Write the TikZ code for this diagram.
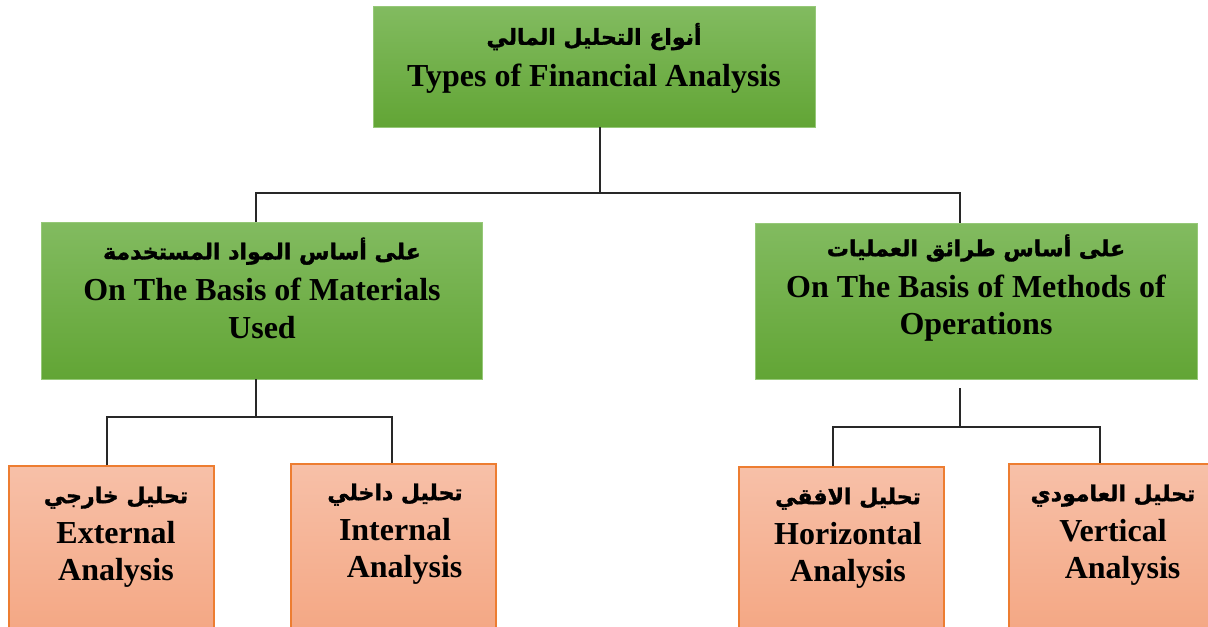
\documentclass[tikz,border=0pt]{standalone}
\usepackage{fontspec}
\setmainfont{Liberation Serif}
\newfontfamily\ar[Script=Arabic,FakeBold=1.5]{DejaVu Sans}
\TeXXeTstate=1
\usetikzlibrary{calc}
\definecolor{gtop}{RGB}{130,187,96}
\definecolor{gbot}{RGB}{98,165,53}
\definecolor{gline}{RGB}{150,200,120}
\definecolor{otop}{RGB}{247,192,168}
\definecolor{obot}{RGB}{244,166,130}
\definecolor{oline}{RGB}{237,125,49}
\definecolor{lne}{RGB}{40,40,40}
\newcommand{\arl}[1]{{\ar\bfseries\fontsize{16.5}{20}\selectfont\beginR #1\endR}}
\begin{document}
\begin{tikzpicture}[x=0.75pt,y=-0.75pt,
  gbox/.style={rectangle, top color=gtop, bottom color=gbot, draw=gline, line width=0.6pt, inner sep=0pt},
  obox/.style={rectangle, top color=otop, bottom color=obot, draw=oline, line width=1.1pt, inner sep=0pt},
  lbl/.style={align=center, font=\bfseries\fontsize{24}{28}\selectfont, inner sep=0pt},
  conn/.style={draw=lne, line width=1pt}]
\useasboundingbox (0,0) rectangle (1208,626);
\clip (0,0) rectangle (1208,626);
% boxes
\node[gbox, minimum width=331.5pt, minimum height=90.75pt] (top) at (594,66.5) {};
\node[gbox, minimum width=330.75pt, minimum height=117.75pt] (left) at (261.5,300.5) {};
\node[gbox, minimum width=331.5pt, minimum height=117pt] (right) at (976,301) {};
\node[obox, minimum width=153.75pt, minimum height=130.5pt] (ext) at (111.5,553) {};
\node[obox, minimum width=153.75pt, minimum height=132pt] (int) at (393.5,552) {};
\node[obox, minimum width=153.75pt, minimum height=129.75pt] (hor) at (841.5,553.5) {};
\node[obox, minimum width=153.75pt, minimum height=132pt] (ver) at (1111.5,552) {};
% labels
\node[lbl] (topt) at (594,58) {\arl{أنواع التحليل المالي}\\[3pt] Types of Financial Analysis};
\node[lbl] (leftt) at (262,288) {\arl{على أساس المواد المستخدمة}\\[3pt] On The Basis of Materials\\ Used};
\node[lbl] (rightt) at (976,288) {\arl{على أساس طرائق العمليات}\\[3pt] On The Basis of Methods of\\ Operations};
\node[lbl] (extt) at (116,537) {\arl{تحليل خارجي}\\[2pt] External\\ Analysis};
\node[lbl] (intt) at (395,534) {\arl{تحليل داخلي}\\[2pt] Internal\\ \hspace*{0.6em}Analysis};
\node[lbl] (hort) at (848,538) {\arl{تحليل الافقي}\\[2pt] Horizontal\\ Analysis};
\node[lbl] (vert) at (1113,535) {\arl{تحليل العامودي}\\[2pt] Vertical\\ \hspace*{0.6em}Analysis};
% connectors
\coordinate (j0) at (600,193);
\coordinate (jl) at (256,193);
\coordinate (jr) at (960,193);
\draw[conn] (top.south -| j0) -- (j0);
\draw[conn] (jl |- left.north) -- (jl) -- (jr) -- (jr |- right.north);
\coordinate (kl) at (256,417);
\coordinate (ka) at (107,417);
\coordinate (kb) at (392,417);
\draw[conn] (left.south -| kl) -- (kl);
\draw[conn] (ka |- ext.north) -- (ka) -- (kb) -- (kb |- int.north);
\coordinate (ms) at (960,388);
\coordinate (m) at (960,427);
\coordinate (ma) at (833,427);
\coordinate (mb) at (1100,427);
\draw[conn] (ms) -- (m);
\draw[conn] (ma |- hor.north) -- (ma) -- (mb) -- (mb |- ver.north);
\end{tikzpicture}
\end{document}
